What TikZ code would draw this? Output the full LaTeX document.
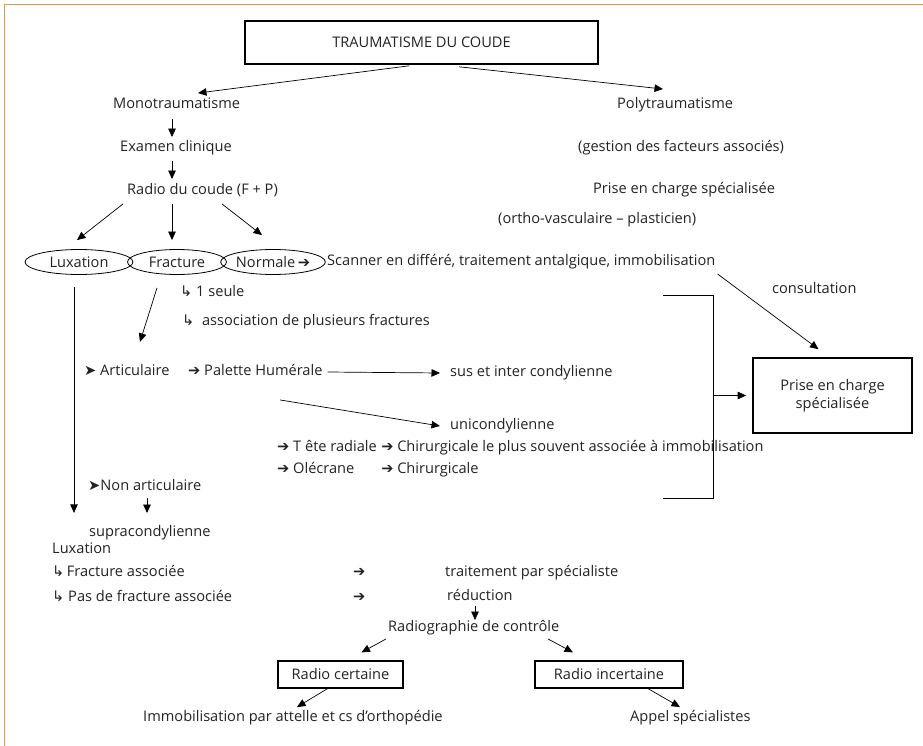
\documentclass[tikz,border=0pt]{standalone}
\usepackage{fontspec}
\setmainfont{Open Sans}
\newfontfamily\symf{DejaVu Sans}
\usetikzlibrary{arrows.meta,shapes.geometric,calc}
\newcommand\myarr{{\symf\bfseries ➔}}
\newcommand\myhead{{\symf ➤}}
\newcommand\myhook{{\symf ↳}}
\definecolor{frameorange}{RGB}{233,148,72}
\definecolor{ink}{RGB}{35,35,35}
\begin{document}
\begin{tikzpicture}[x=1pt,y=-1pt,
  every node/.style={text=ink},
  font=\fontsize{14.6}{17}\selectfont,
  lbl/.style={anchor=west,inner sep=0pt,text height=10.5pt,text depth=3pt},
  arr/.style={draw=black,line width=0.7pt,-{Triangle[length=8.5pt,width=7.5pt]}},
  plain/.style={draw=black,line width=0.7pt},
  oval/.style={ellipse,draw,line width=0.8pt,inner sep=0pt,minimum height=25pt},
  thickbox/.style={draw,line width=1.6pt,inner sep=0pt},
  thinbox/.style={draw,line width=1.2pt,inner sep=0pt}]

\useasboundingbox (0,0) rectangle (923,746);
\fill[white] (0,0) rectangle (923,746);
\draw[frameorange,line width=1.5pt] (4.5,746) -- (4.5,4.5) -- (923,4.5);

% nodes
\node[thickbox,minimum width=353pt,minimum height=43pt] (title) at (421.5,42.5) {TRAUMATISME DU COUDE};
\node[lbl] (mono) at (113,105) {Monotraumatisme};
\node[lbl] (poly) at (617,105) {Polytraumatisme};
\node[lbl] (exam) at (120,148) {Examen clinique};
\node[lbl] (gest) at (578,148) {(gestion des facteurs associés)};
\node[lbl] (radio) at (127,191) {Radio du coude (F + P)};
\node[lbl] (pec) at (593,190) {Prise en charge spécialisée};
\node[lbl] (ortho) at (498,220) {(ortho-vasculaire – plasticien)};
\node[oval,minimum width=108pt] (lux) at (79,262) {Luxation};
\node[oval,minimum width=99pt] (frac) at (177,262) {Fracture};
\node[oval,minimum width=103pt] (norm) at (273,262) {Normale\,\myarr};
\node[lbl] (scan) at (327,262) {Scanner en différé, traitement antalgique, immobilisation};
\node[lbl] (seule) at (180,293) {\myhook\ 1 seule};
\node[lbl] (assoc) at (182,322) {\myhook\ \ association de plusieurs fractures};
\node[lbl] (arti) at (84,372) {\myhead\ Articulaire};
\node[lbl] (pal) at (188,372) {\myarr\ Palette Humérale};
\node[lbl] (sus) at (450,373) {sus et inter condylienne};
\node[lbl] (uni) at (450,426) {unicondylienne};
\node[lbl] (tete) at (277,448) {\myarr\ T ête radiale};
\node[lbl] (chir1) at ($(tete.east)+(4,0)$) {\myarr\ Chirurgicale le plus souvent associée à immobilisation};
\node[lbl] (olec) at (277,470) {\myarr\ Olécrane};
\node[lbl] (chir2) at (chir1.west |- olec.west) {\myarr\ Chirurgicale};
\node[lbl] (nonart) at (88,487) {\myhead Non articulaire};
\node[lbl] (supra) at (89,533) {supracondylienne};
\node[lbl] (luxb) at (52,550) {Luxation};
\node[lbl] (fa) at (52,573) {\myhook\,Fracture associée};
\node[lbl] (pfa) at (52,598) {\myhook\ Pas de fracture associée};
\node[lbl] (ar1) at (353,573) {\myarr};
\node[lbl] (ar2) at (353,598) {\myarr};
\node[lbl] (trait) at (445,573) {traitement par spécialiste};
\node[lbl] (redu) at (447,597) {réduction};
\node[lbl] (rctrl) at (388,628) {Radiographie de contrôle};
\node[thinbox,minimum width=125pt,minimum height=27pt] (rc) at (340.5,674.5) {Radio certaine};
\node[thinbox,minimum width=148pt,minimum height=27pt] (ri) at (609,674.5) {Radio incertaine};
\node[lbl] (immo) at (143,718) {Immobilisation par attelle et cs d’orthopédie};
\node[lbl] (appel) at (630,718) {Appel spécialistes};
\node[thickbox,minimum width=159pt,minimum height=75pt,align=center] (pecbox) at (832.5,395.5) {Prise en charge\\[1pt]spécialisée};
\node[lbl] (consult) at (772,290) {consultation};

% helper coordinates
\coordinate (fracend) at ($(frac.south)+(-37,67)$);
\coordinate (luxend) at ($(lux.south)+(-5,238)$);
\coordinate (bt) at (663,295);
\coordinate (bb) at (663,498);
\coordinate (bm) at (713,395.5);

% connectors
\draw[arr] ($(title.south west)+(165,1)$) -- ($(mono.north west)+(85,-5)$);
\draw[arr] ($(title.south west)+(215,2)$) -- ($(poly.north west)+(46,-9)$);
\draw[arr] ($(mono.south west)+(59,7)$) -- ($(exam.north west)+(52,-4)$);
\draw[arr] ($(exam.south west)+(52,6)$) -- ($(radio.north west)+(45,-5)$);
\draw[arr] ($(radio.south west)+(-4,6)$) -- ($(lux.north)+(-2,-9)$);
\draw[arr] ($(radio.south west)+(45,6)$) -- ($(frac.north)+(-5,-9)$);
\draw[arr] ($(radio.south west)+(95,6)$) -- ($(norm.north)+(-11,-14)$);
\draw[arr] ($(frac.south)+(-20,13)$) -- (fracend);
\draw[arr] ($(lux.south)+(-5,12)$) -- (luxend);
\draw[arr] ($(pal.east)+(5,0)$) -- ($(sus.west)+(-10,0)$);
\draw[arr] ($(pal.south west)+(92,21)$) -- ($(uni.west)+(-10,0)$);
\draw[arr] ($(nonart.south west)+(59,4)$) -- ($(supra.north west)+(58,-13)$);
\draw[arr] ($(redu.south west)+(28,2)$) -- ($(rctrl.north west)+(87,-1)$);
\draw[arr] ($(rctrl.south west)+(-2,4)$) -- ($(rc.north)+(21,-8)$);
\draw[arr] ($(rctrl.south west)+(160,4)$) -- ($(ri.north)+(-36,-8)$);
\draw[arr] ($(rc.south)+(-13,0)$) -- ($(immo.north west)+(154,-4)$);
\draw[arr] ($(ri.south)+(39,0)$) -- ($(appel.north west)+(50,-4)$);
\draw[plain] (bt) -- (713,295) -- (713,498) -- (bb);
\draw[arr] (bm) -- ($(pecbox.west)+(-6,0)$);
\draw[arr] ($(scan.south east)+(2,5)$) -- ($(pecbox.north)+(-14,-8)$);
\end{tikzpicture}
\end{document}
